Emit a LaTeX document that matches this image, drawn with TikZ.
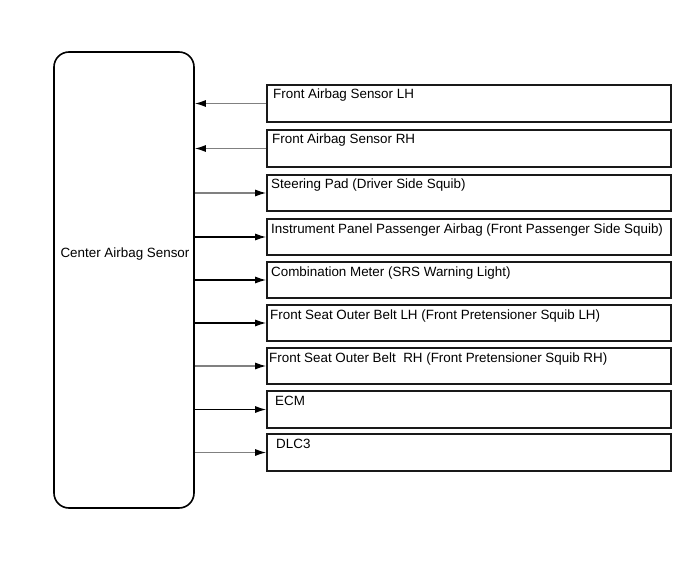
\documentclass[tikz,border=0pt]{standalone}
\usepackage{fontspec}
\setmainfont{Liberation Sans}
\usetikzlibrary{arrows.meta}
\begin{document}
\begin{tikzpicture}[x=1pt,y=-1pt,
  every node/.style={font=\fontsize{13.4}{15}\selectfont},
  centerbox/.style={draw=black,line width=1.6pt,rounded corners=15pt,inner sep=0pt},
  rbox/.style={draw=black!90,line width=1.6pt,inner sep=0pt,minimum width=404pt},
  lbl/.style={anchor=base west,inner sep=0pt},
  conn/.style={line width=1.3pt,-{Latex[length=11pt,width=7pt]}},
  gconn/.style={conn,draw=black!50,-{Latex[length=11pt,width=7pt,color=black]}}
]
\useasboundingbox (0,0) rectangle (690,564);
\node[centerbox,minimum width=140pt,minimum height=456pt] (cas) at (124,280) {};
\node[inner sep=0pt] (castext) at (125,254) {Center Airbag Sensor};

\node[rbox,minimum height=37pt] (b1) at (469,103.5) {};
\node[lbl] (t1) at (273,99) {Front Airbag Sensor LH};
\node[rbox,minimum height=37pt] (b2) at (469,148.5) {};
\node[lbl] (t2) at (272,144) {Front Airbag Sensor RH};
\node[rbox,minimum height=36pt] (b3) at (469,193) {};
\node[lbl] (t3) at (271,189) {Steering Pad (Driver Side Squib)};
\node[rbox,minimum height=36pt] (b4) at (469,237) {};
\node[lbl] (t4) at (271,233) {Instrument Panel Passenger Airbag (Front Passenger Side Squib)};
\node[rbox,minimum height=36pt] (b5) at (469,280) {};
\node[lbl] (t5) at (271,276) {Combination Meter (SRS Warning Light)};
\node[rbox,minimum height=36pt] (b6) at (469,323) {};
\node[lbl] (t6) at (270,319) {Front Seat Outer Belt LH (Front Pretensioner Squib LH)};
\node[rbox,minimum height=36pt] (b7) at (469,366) {};
\node[lbl] (t7) at (269,362) {Front Seat Outer Belt\ \ RH (Front Pretensioner Squib RH)};
\node[rbox,minimum height=37pt] (b8) at (469,409.5) {};
\node[lbl] (t8) at (275,405) {ECM};
\node[rbox,minimum height=37pt] (b9) at (469,452.5) {};
\node[lbl] (t9) at (276,448) {DLC3};

\draw[gconn] (b1.west) -- (b1.west -| cas.east);
\draw[gconn] (b2.west) -- (b2.west -| cas.east);
\draw[gconn] (b3.west -| cas.east) -- (b3.west);
\draw[conn] (b4.west -| cas.east) -- (b4.west);
\draw[conn] (b5.west -| cas.east) -- (b5.west);
\draw[conn] (b6.west -| cas.east) -- (b6.west);
\draw[gconn] (b7.west -| cas.east) -- (b7.west);
\draw[conn] (b8.west -| cas.east) -- (b8.west);
\draw[gconn] (b9.west -| cas.east) -- (b9.west);
\end{tikzpicture}
\end{document}
